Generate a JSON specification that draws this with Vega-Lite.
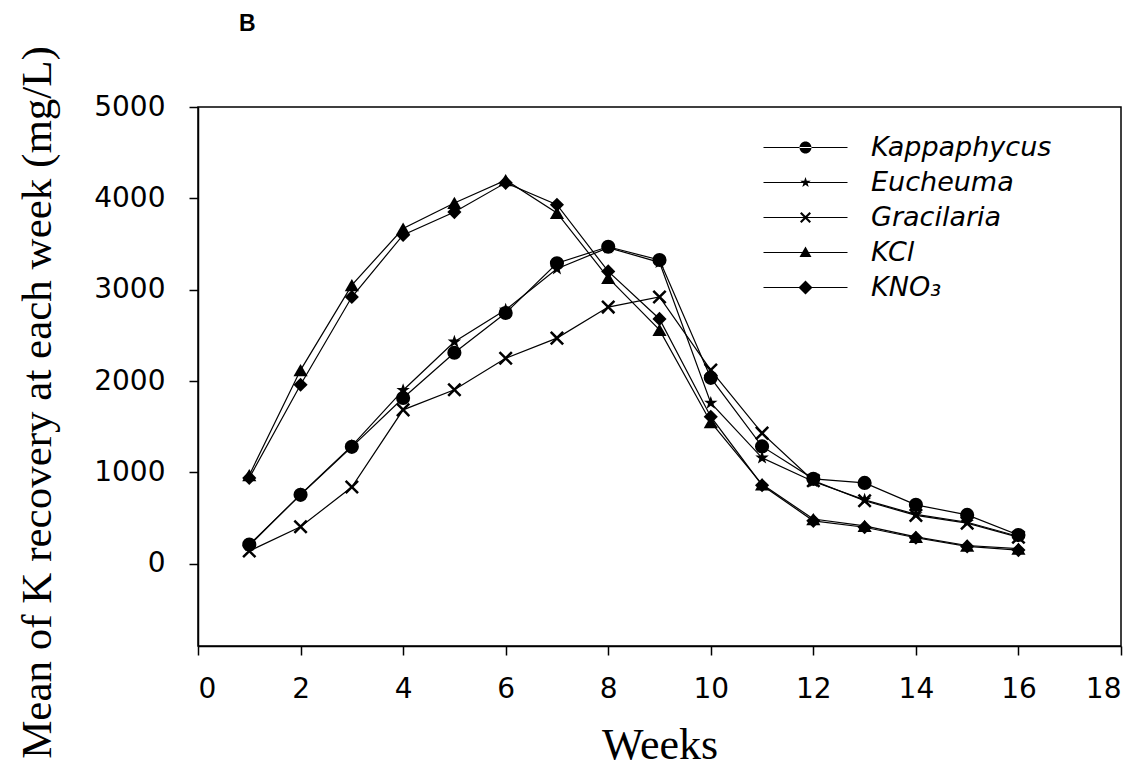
{
  "$schema": "https://vega.github.io/schema/vega-lite/v6.json",
  "width": 923,
  "height": 539,
  "autosize": {"type": "none"},
  "padding": {"left": 198, "top": 107, "right": 22, "bottom": 122},
  "background": "white",
  "title": {"text": "B", "anchor": "start", "frame": "group", "font": "Liberation Sans", "fontSize": 23, "fontWeight": "bold", "color": "black", "dx": 41, "offset": 0, "dy": -10},
  "config": {
    "view": {"stroke": "black", "strokeWidth": 1.5},
    "axis": {"grid": false, "domainColor": "black", "domainWidth": 1.5, "tickColor": "black", "tickWidth": 1.5, "tickSize": 9, "labelColor": "black", "labelFont": "DejaVu Sans", "labelFontSize": 28, "titleColor": "black", "titleFont": "Liberation Serif", "titleFontSize": 44, "titleFontWeight": "normal"}
  },
  "data": {"values": [
    {"week": 1, "series": "Kappaphycus", "value": 210},
    {"week": 2, "series": "Kappaphycus", "value": 755},
    {"week": 3, "series": "Kappaphycus", "value": 1280},
    {"week": 4, "series": "Kappaphycus", "value": 1815},
    {"week": 5, "series": "Kappaphycus", "value": 2310},
    {"week": 6, "series": "Kappaphycus", "value": 2745},
    {"week": 7, "series": "Kappaphycus", "value": 3290},
    {"week": 8, "series": "Kappaphycus", "value": 3470},
    {"week": 9, "series": "Kappaphycus", "value": 3325},
    {"week": 10, "series": "Kappaphycus", "value": 2035},
    {"week": 11, "series": "Kappaphycus", "value": 1285},
    {"week": 12, "series": "Kappaphycus", "value": 930},
    {"week": 13, "series": "Kappaphycus", "value": 885},
    {"week": 14, "series": "Kappaphycus", "value": 645},
    {"week": 15, "series": "Kappaphycus", "value": 535},
    {"week": 16, "series": "Kappaphycus", "value": 315},
    {"week": 1, "series": "Eucheuma", "value": 200},
    {"week": 2, "series": "Eucheuma", "value": 760},
    {"week": 3, "series": "Eucheuma", "value": 1290},
    {"week": 4, "series": "Eucheuma", "value": 1900},
    {"week": 5, "series": "Eucheuma", "value": 2430},
    {"week": 6, "series": "Eucheuma", "value": 2780},
    {"week": 7, "series": "Eucheuma", "value": 3230},
    {"week": 8, "series": "Eucheuma", "value": 3460},
    {"week": 9, "series": "Eucheuma", "value": 3300},
    {"week": 10, "series": "Eucheuma", "value": 1760},
    {"week": 11, "series": "Eucheuma", "value": 1160},
    {"week": 12, "series": "Eucheuma", "value": 900},
    {"week": 13, "series": "Eucheuma", "value": 700},
    {"week": 14, "series": "Eucheuma", "value": 540},
    {"week": 15, "series": "Eucheuma", "value": 455},
    {"week": 16, "series": "Eucheuma", "value": 300},
    {"week": 1, "series": "Gracilaria", "value": 140},
    {"week": 2, "series": "Gracilaria", "value": 405},
    {"week": 3, "series": "Gracilaria", "value": 840},
    {"week": 4, "series": "Gracilaria", "value": 1685},
    {"week": 5, "series": "Gracilaria", "value": 1905},
    {"week": 6, "series": "Gracilaria", "value": 2250},
    {"week": 7, "series": "Gracilaria", "value": 2470},
    {"week": 8, "series": "Gracilaria", "value": 2810},
    {"week": 9, "series": "Gracilaria", "value": 2920},
    {"week": 10, "series": "Gracilaria", "value": 2120},
    {"week": 11, "series": "Gracilaria", "value": 1430},
    {"week": 12, "series": "Gracilaria", "value": 910},
    {"week": 13, "series": "Gracilaria", "value": 690},
    {"week": 14, "series": "Gracilaria", "value": 530},
    {"week": 15, "series": "Gracilaria", "value": 445},
    {"week": 16, "series": "Gracilaria", "value": 290},
    {"week": 1, "series": "KCl", "value": 970},
    {"week": 2, "series": "KCl", "value": 2120},
    {"week": 3, "series": "KCl", "value": 3050},
    {"week": 4, "series": "KCl", "value": 3670},
    {"week": 5, "series": "KCl", "value": 3950},
    {"week": 6, "series": "KCl", "value": 4200},
    {"week": 7, "series": "KCl", "value": 3840},
    {"week": 8, "series": "KCl", "value": 3130},
    {"week": 9, "series": "KCl", "value": 2560},
    {"week": 10, "series": "KCl", "value": 1550},
    {"week": 11, "series": "KCl", "value": 870},
    {"week": 12, "series": "KCl", "value": 490},
    {"week": 13, "series": "KCl", "value": 415},
    {"week": 14, "series": "KCl", "value": 295},
    {"week": 15, "series": "KCl", "value": 200},
    {"week": 16, "series": "KCl", "value": 165},
    {"week": 1, "series": "KNO₃", "value": 940},
    {"week": 2, "series": "KNO₃", "value": 1960},
    {"week": 3, "series": "KNO₃", "value": 2920},
    {"week": 4, "series": "KNO₃", "value": 3600},
    {"week": 5, "series": "KNO₃", "value": 3850},
    {"week": 6, "series": "KNO₃", "value": 4170},
    {"week": 7, "series": "KNO₃", "value": 3930},
    {"week": 8, "series": "KNO₃", "value": 3200},
    {"week": 9, "series": "KNO₃", "value": 2680},
    {"week": 10, "series": "KNO₃", "value": 1610},
    {"week": 11, "series": "KNO₃", "value": 860},
    {"week": 12, "series": "KNO₃", "value": 470},
    {"week": 13, "series": "KNO₃", "value": 400},
    {"week": 14, "series": "KNO₃", "value": 285},
    {"week": 15, "series": "KNO₃", "value": 190},
    {"week": 16, "series": "KNO₃", "value": 150}
  ]},
  "encoding": {
    "x": {"field": "week", "type": "quantitative", "scale": {"domain": [0, 18], "nice": false, "zero": false},
      "axis": {"values": [0, 2, 4, 6, 8, 10, 12, 14, 16, 18], "title": "Weeks", "labelPadding": 20, "titleBaseline": "alphabetic", "titleY": 112}},
    "y": {"field": "value", "type": "quantitative", "scale": {"domain": [-900, 5000], "nice": false, "zero": false},
      "axis": {"values": [0, 1000, 2000, 3000, 4000, 5000], "format": "d", "title": "Mean of K recovery at each week (mg/L)", "labelPadding": 24, "titleBaseline": "alphabetic", "titleX": -148, "titleY": 295, "titleAngle": 270, "titleFontSize": 43}}
  },
  "layer": [
    {"mark": {"type": "line", "color": "black", "strokeWidth": 1.2},
     "encoding": {"detail": {"field": "series", "type": "nominal"}}},
    {"mark": {"type": "point", "filled": true, "color": "black", "opacity": 1, "size": 200},
     "encoding": {"shape": {"field": "series", "type": "nominal",
       "scale": {"domain": ["Kappaphycus", "Eucheuma", "Gracilaria", "KCl", "KNO₃"],
         "range": ["circle",
           "M0,-1L0.235,-0.324L0.951,-0.309L0.38,0.124L0.588,0.809L0,0.4L-0.588,0.809L-0.38,0.124L-0.951,-0.309L-0.235,-0.324Z",
           "M-1,-0.75L-0.75,-1L0,-0.25L0.75,-1L1,-0.75L0.25,0L1,0.75L0.75,1L0,0.25L-0.75,1L-1,0.75L-0.25,0Z",
           "triangle-up",
           "diamond"]},
       "legend": null}}},
    {"transform": [{"filter": "datum.week < 0"}],
     "mark": {"type": "point", "filled": true, "color": "black", "opacity": 1, "size": 400},
     "encoding": {"shape": {"field": "series", "type": "nominal",
       "scale": {"domain": ["Kappaphycus", "Eucheuma", "Gracilaria", "KCl", "KNO₃"],
         "range": [
           "M-4.2,-0.06H4.2V0.06H-4.2ZM-0.6,0A0.6,0.6,0,1,0,0.6,0A0.6,0.6,0,1,0,-0.6,0Z",
           "M-4.2,-0.06H4.2V0.06H-4.2ZM0,-0.55L0.129,-0.178L0.523,-0.17L0.209,0.068L0.323,0.445L0,0.22L-0.323,0.445L-0.209,0.068L-0.523,-0.17L-0.129,-0.178Z",
           "M-4.2,-0.06H4.2V0.06H-4.2ZM-0.55,-0.4L-0.4,-0.55L0,-0.15L0.4,-0.55L0.55,-0.4L0.15,0L0.55,0.4L0.4,0.55L0,0.15L-0.4,0.55L-0.55,0.4L-0.15,0Z",
           "M-4.2,-0.06H4.2V0.06H-4.2ZM0,-0.6L0.6,0.45L-0.6,0.45Z",
           "M-4.2,-0.06H4.2V0.06H-4.2ZM0,-0.7L0.7,0L0,0.7L-0.7,0Z"]},
       "legend": {"orient": "none", "legendX": 594, "legendY": 27, "title": null, "padding": 0,
         "symbolSize": 400, "labelOffset": 52, "rowPadding": 7,
         "labelFont": "DejaVu Sans", "labelFontStyle": "italic", "labelFontSize": 27, "labelColor": "black", "labelLimit": 400,
         "symbolFillColor": "black", "symbolOpacity": 1,
         "encode": {"symbols": {"update": {"fill": {"value": "black"}, "opacity": {"value": 1}}}}}}}}
  ],
  "resolve": {"scale": {"shape": "independent"}, "legend": {"shape": "independent"}}
}
